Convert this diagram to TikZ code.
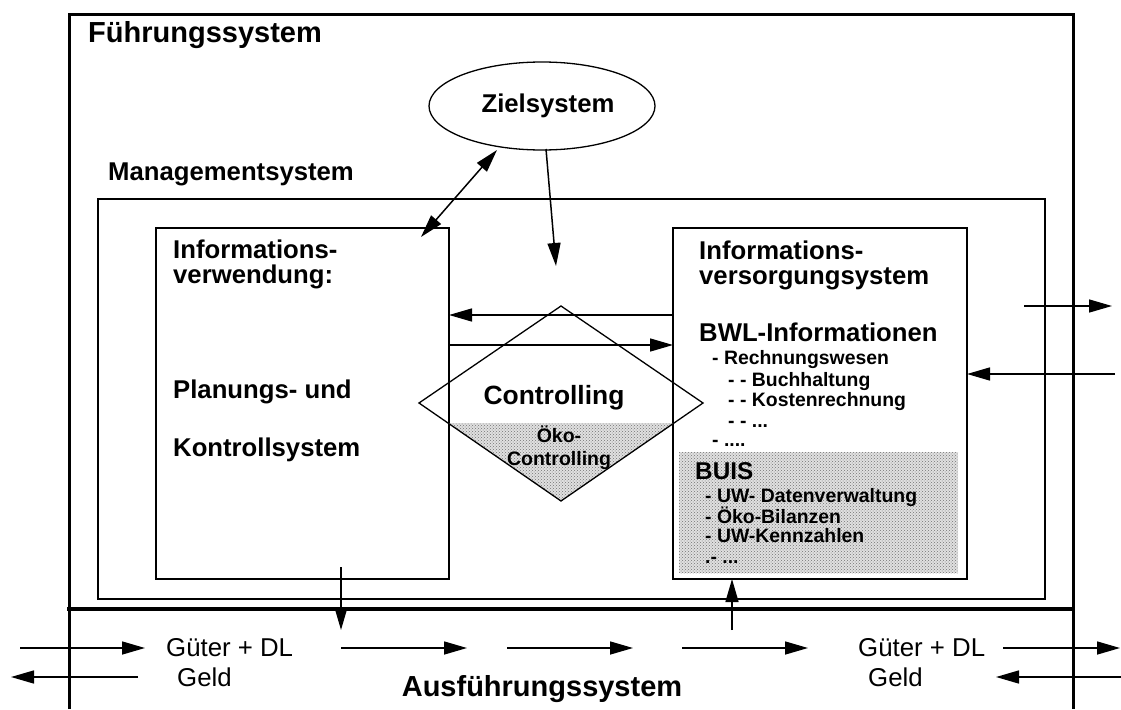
\documentclass[tikz,border=0pt]{standalone}
\usepackage{fontspec}
\setmainfont{Liberation Sans}
\usetikzlibrary{shapes.geometric,arrows.meta,patterns}

\begin{document}
\begin{tikzpicture}[x=1pt,y=-1pt,
  lbl/.style={font=\fontsize{25.7}{26}\selectfont\bfseries, inner sep=0, anchor=base west},
  sub/.style={font=\fontsize{19.4}{20}\selectfont\bfseries, inner sep=0, anchor=base west},
  big/.style={font=\fontsize{29}{30}\selectfont\bfseries, inner sep=0},
  flow/.style={font=\fontsize{25.8}{26}\selectfont, inner sep=0, anchor=base west},
  panel/.style={draw, line width=1.7pt, inner sep=0, outer sep=0, anchor=north west},
  arr/.style={line width=1.5pt, -{Triangle[length=23pt,width=13pt]}},
  darr/.style={line width=1.5pt, {Triangle[length=23pt,width=13pt]}-{Triangle[length=23pt,width=13pt]}},
  stipple/.style={fill=black!12, postaction={pattern=crosshatch dots, pattern color=black!55}},
]
\useasboundingbox (0,0) rectangle (1121,709);

% Führungssystem frame, open at the bottom, and the border to the Ausführungssystem
\draw[line width=3pt, line join=miter] (69,709) -- (69,15) -- (1073,15) -- (1073,709);
\draw[line width=4.5pt] (67,609) -- (1075,609);
\node[big, anchor=base west] (fuehr) at (88,43) {Führungssystem};

% Zielsystem
\node[ellipse, draw, line width=1.3pt, minimum width=226pt, minimum height=88pt, inner sep=0] (ziel) at (542,106) {};
\node[lbl, anchor=base] (zieltxt) at (548,112) {Zielsystem};

% Managementsystem with its two panels
\node[lbl] (mgmttxt) at (108,180) {Managementsystem};
\node[panel, minimum width=947pt, minimum height=400pt] (mgmt) at (98,199) {};
\node[panel, minimum width=293pt, minimum height=351pt] (lbox) at (156,228) {};
\node[panel, minimum width=294pt, minimum height=351pt] (rbox) at (673,228) {};

% BUIS area inside the information supply panel
\fill[stipple] (679,452) rectangle (958,573);

% left panel text
\node[lbl] (l1) at (173,258) {Informations-};
\node[lbl] (l2) at (173,283) {verwendung:};
\node[lbl] (l3) at (173,398) {Planungs- und};
\node[lbl] (l4) at (173,456) {Kontrollsystem};

% right panel text
\node[lbl] (r1) at (699,259) {Informations-};
\node[lbl] (r2) at (699,284) {versorgungsystem};
\node[lbl] (r3) at (699,341) {BWL-Informationen};
\node[sub] (r4) at (712,364) {- Rechnungswesen};
\node[sub] (r5) at (728,386) {- - Buchhaltung};
\node[sub] (r6) at (728,406) {- - Kostenrechnung};
\node[sub] (r7) at (728,427) {- - ...};
\node[sub] (r8) at (712,446) {- ....};
\node[font=\fontsize{24.3}{25}\selectfont\bfseries, inner sep=0, anchor=base west] (buis) at (695,479) {BUIS};
\node[sub] (b1) at (705,502) {- UW- Datenverwaltung};
\node[sub] (b2) at (705,523) {- Öko-Bilanzen};
\node[sub] (b3) at (705,542) {- UW-Kennzahlen};
\node[sub] (b4) at (705,563) {.- ...};

% Controlling diamond with shaded lower part
\coordinate (dT) at (561,306);
\coordinate (dR) at (703,403);
\coordinate (dB) at (561,501);
\coordinate (dL) at (419,403);
\begin{scope}
  \clip (dT) -- (dR) -- (dB) -- (dL) -- cycle;
  \fill[stipple] (400,423) rectangle (720,510);
\end{scope}
\draw[line width=1.3pt, line join=miter] (dT) -- (dR) -- (dB) -- (dL) -- cycle;
\node[font=\fontsize{26.4}{27}\selectfont\bfseries, inner sep=0, anchor=base] (ctrl) at (554,404) {Controlling};
\node[font=\fontsize{19.5}{20}\selectfont\bfseries, inner sep=0, anchor=base] (oeko1) at (559,442) {Öko-};
\node[font=\fontsize{19.5}{20}\selectfont\bfseries, inner sep=0, anchor=base] (oeko2) at (559,465) {Controlling};

% information flows in the management system
\coordinate (zA) at (497,150);
\coordinate (zB) at (546,149);
\coordinate (zC) at (556,266);
\draw[darr] (zA) -- ([xshift=-28pt,yshift=-9pt]lbox.north east);
\draw[arr] (zB) -- (zC);
\draw[arr] ([yshift=-87pt]rbox.north west) -- ([yshift=-87pt]lbox.north east);
\draw[arr] ([yshift=-117pt]lbox.north east) -- ([yshift=-117pt]rbox.north west);

% exchange with the environment
\coordinate (eo1) at (1024,306);
\coordinate (eo2) at (1112,306);
\coordinate (ei1) at (1115,374);
\draw[arr] (eo1) -- (eo2);
\draw[arr] (ei1) -- ([yshift=-146pt]rbox.north east);

% links between Führungssystem and Ausführungssystem
\coordinate (lv1) at (341,567);
\coordinate (lv2) at (341,630);
\coordinate (rv1) at (732,630);
\draw[arr] (lv1) -- (lv2);
\draw[arr] (rv1) -- ([xshift=59pt]rbox.south west);

% Ausführungssystem
\node[big, anchor=base] (ausf) at (542,696) {Ausführungssystem};
\node[flow] (g1) at (166,656) {Güter + DL};
\node[flow] (m1) at (177,686) {Geld};
\node[flow] (g2) at (858,656) {Güter + DL};
\node[flow] (m2) at (868,686) {Geld};

\coordinate (a1s) at (20,648);   \coordinate (a1e) at (145,648);
\coordinate (a2s) at (341,648);  \coordinate (a2e) at (467,648);
\coordinate (a3s) at (507,648);  \coordinate (a3e) at (633,648);
\coordinate (a4s) at (682,648);  \coordinate (a4e) at (808,648);
\coordinate (a5s) at (1003,648); \coordinate (a5e) at (1120,648);
\coordinate (b1s) at (138,677);  \coordinate (b1e) at (11,677);
\coordinate (b2s) at (1121,677); \coordinate (b2e) at (996,677);
\draw[arr] (a1s) -- (a1e);
\draw[arr] (a2s) -- (a2e);
\draw[arr] (a3s) -- (a3e);
\draw[arr] (a4s) -- (a4e);
\draw[arr] (a5s) -- (a5e);
\draw[arr] (b1s) -- (b1e);
\draw[arr] (b2s) -- (b2e);
\end{tikzpicture}
\end{document}
